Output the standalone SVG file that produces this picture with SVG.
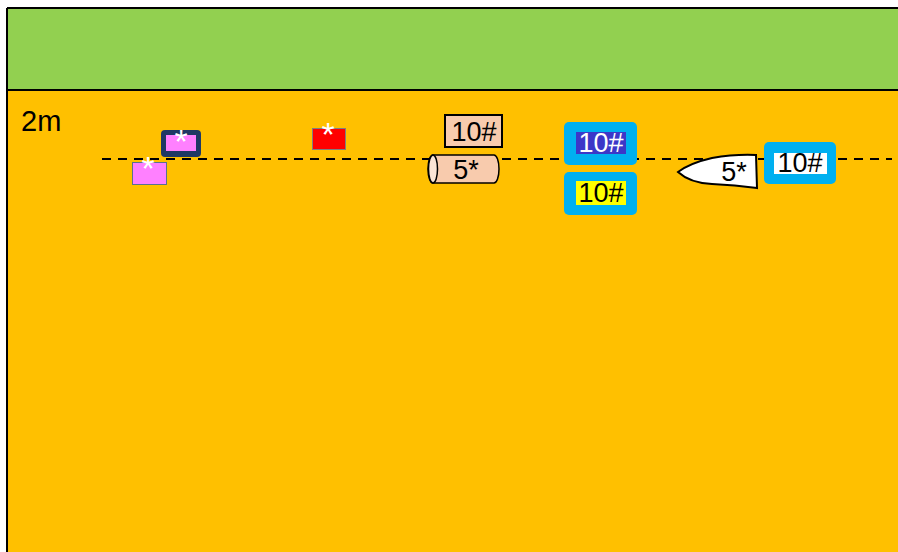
<svg xmlns="http://www.w3.org/2000/svg" width="898" height="552" viewBox="0 0 898 552">
<style>
text{font-family:"Liberation Sans",Arial,sans-serif;}
.lbl{font-size:27px;text-anchor:middle;}
.ast{fill:#fff;font-size:34px;text-anchor:middle;}
.blue{fill:#00B0F0;}
</style>
<rect x="0" y="0" width="898" height="552" fill="#fff"/>
<g id="ground">
<rect x="7" y="90" width="893" height="470" fill="#FFC000"/>
<rect x="7" y="8" width="893" height="82" fill="#92D050"/>
<line x1="7" y1="8" x2="898" y2="8" stroke="#000" stroke-width="2"/>
<line x1="7" y1="90" x2="898" y2="90" stroke="#000" stroke-width="2"/>
<line x1="7" y1="8" x2="7" y2="552" stroke="#000" stroke-width="2"/>
<text x="21" y="131" font-size="29">2m</text>
</g>
<g id="connectors">
<line x1="102" y1="159" x2="892" y2="159" stroke="#000" stroke-width="2" stroke-dasharray="9 7"/>
</g>
<g id="node-navy">
<rect x="161" y="130" width="40" height="27" rx="4" fill="#1F3864"/>
<rect x="166" y="135" width="30" height="16" fill="#FF80FF"/>
<text class="ast" x="181" y="153">*</text>
</g>
<g id="node-pink">
<rect x="132.5" y="162.5" width="34" height="22" fill="#FF80FF" stroke="#5B7090" stroke-width="1"/>
<text class="ast" x="148" y="180">*</text>
</g>
<g id="node-red">
<rect x="312.5" y="128.5" width="33" height="21" fill="#FF0000" stroke="#7F7F7F" stroke-width="1"/>
<text class="ast" x="328" y="146">*</text>
</g>
<g id="node-peach-box">
<rect x="445" y="115" width="57" height="32" fill="#F8CBAD" stroke="#000" stroke-width="2"/>
<text class="lbl" x="474" y="141">10#</text>
</g>
<g id="node-cylinder">
<path d="M433,155 L494,155 A5,14 0 0 1 494,183 L433,183 A5,14 0 0 1 433,155 Z" fill="#F8CBAD" stroke="#000" stroke-width="1.5"/>
<ellipse cx="433" cy="169" rx="4.5" ry="14" fill="#FBE5D6" stroke="#000" stroke-width="1.5"/>
<text class="lbl" x="466" y="179" font-size="24">5*</text>
</g>
<g id="node-blue1">
<rect class="blue" x="564" y="122" width="73" height="43" rx="5"/>
<rect x="576" y="132" width="50" height="22" fill="#3C37C8"/>
<text class="lbl" x="601" y="152" fill="#fff">10#</text>
</g>
<g id="node-blue2">
<rect class="blue" x="564" y="172" width="73" height="43" rx="5"/>
<rect x="576" y="181" width="50" height="24" fill="#FFFF00"/>
<text class="lbl" x="601" y="202">10#</text>
</g>
<g id="node-shoe">
<path d="M678,172 Q690,163 712,158 Q735,154 756,155 L757,188 Q735,185 712,184 Q690,183 678,172 Z" fill="#fff" stroke="#000" stroke-width="2"/>
<text class="lbl" x="734" y="181" font-size="24">5*</text>
</g>
<g id="node-blue3">
<rect class="blue" x="764" y="142" width="72" height="42" rx="5"/>
<rect x="774" y="153" width="53" height="21" fill="#fff"/>
<text class="lbl" x="800" y="172">10#</text>
</g>
</svg>
